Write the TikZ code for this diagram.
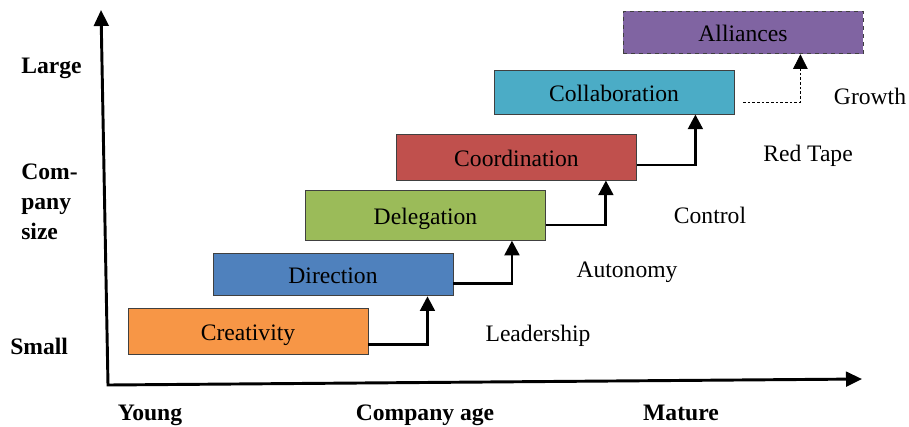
\documentclass[tikz,border=0pt]{standalone}
\usepackage{fontspec}
\setmainfont{Liberation Serif}
\usetikzlibrary{arrows.meta}

\definecolor{creatfill}{HTML}{F79646}
\definecolor{dirfill}{HTML}{4F81BD}
\definecolor{delefill}{HTML}{9BBB59}
\definecolor{coordfill}{HTML}{C0504D}
\definecolor{collabfill}{HTML}{4BACC6}
\definecolor{allyfill}{HTML}{8064A2}

\begin{document}
\begin{tikzpicture}[x=0.75pt, y=-0.75pt,
  font=\fontsize{17.7}{22.5}\selectfont,
  every node/.style={text height=13.8pt, text depth=0pt},
  phase/.style={draw=black!75, line width=0.7pt, minimum width=180pt, inner sep=0pt},
  stair/.style={line width=2.2pt, -{Triangle[length=11pt,width=11pt]}},
  axislabel/.style={font=\fontsize{17.7}{22.5}\selectfont\bfseries, inner sep=0pt}]
\useasboundingbox (0,0) rectangle (909,426);

% axes
\coordinate (ytop) at (101,10);
\coordinate (origin) at (108,385);
\coordinate (xend) at (862,379);
\draw[line width=2.2pt, {Triangle[length=12pt,width=11pt]}-{Triangle[length=12pt,width=11pt]}]
  (ytop) -- (origin) -- (xend);

\node[axislabel, anchor=west] (large) at (21,64) {Large};
\node[axislabel, anchor=west, align=left, text height=, text depth=] (size) at (21,202) {Com-\\pany\\size};
\node[axislabel, anchor=west] (small) at (10,345) {Small};
\node[axislabel] (young) at (150,411) {Young};
\node[axislabel] (age) at (425,411) {Company age};
\node[axislabel] (mature) at (681,411) {Mature};

% phases
\node[phase, fill=creatfill, minimum height=35pt] (creat) at (248,331.5) {Creativity};
\node[phase, fill=dirfill, minimum height=32pt] (dir) at (333,274.5) {Direction};
\node[phase, fill=delefill, minimum height=37pt] (dele) at (425.5,215.5) {Delegation};
\node[phase, fill=coordfill, minimum height=34.5pt] (coord) at (516.5,157) {Coordination};
\node[phase, fill=collabfill, minimum height=33pt] (collab) at (614,92) {Collaboration};
\node[phase, fill=allyfill, minimum height=32pt, dashed] (ally) at (743,32.5) {Alliances};

% crises
\node (leader) at (538,332) {Leadership};
\node (auto) at (627,268) {Autonomy};
\node (control) at (710,214) {Control};
\node (redtape) at (808,152) {Red Tape};
\node (growth) at (870,95) {Growth};

\draw[stair] ([yshift=-9.4pt]creat.east) -| ([xshift=-19.5pt]dir.south east);
\draw[stair] ([yshift=-6.4pt]dir.east) -| ([xshift=-25.5pt]dele.south east);
\draw[stair] ([yshift=-7.1pt]dele.east) -| ([xshift=-23.3pt]coord.south east);
\draw[stair] ([yshift=-6pt]coord.east) -| ([xshift=-29.3pt]collab.south east);
\draw[line width=0.6pt, dash pattern=on 2pt off 1.5pt, -{Triangle[length=11pt,width=11pt]}]
  ([xshift=6.5pt,yshift=-7.5pt]collab.east) -| ([xshift=-47.3pt]ally.south east);
\end{tikzpicture}
\end{document}
